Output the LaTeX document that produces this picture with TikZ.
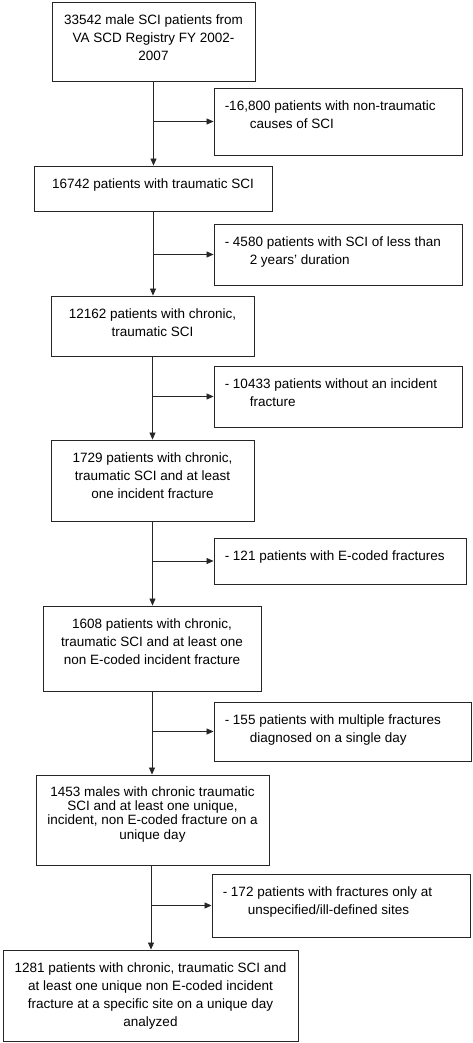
\documentclass[tikz,border=0pt]{standalone}
\usepackage{fontspec}
\setmainfont{Liberation Sans}
\usepackage{tikz}
\usetikzlibrary{positioning,calc,arrows.meta}

\tikzset{
    stagebox/.style={draw=black!85, line width=0.9pt, inner sep=0pt},
    stagetext/.style={anchor=north, inner sep=0pt, align=center, font=\fontsize{13.5}{18}\selectfont},
    droptext/.style={anchor=north west, inner sep=0pt, align=left, font=\fontsize{13.5}{18}\selectfont},
    flow/.style={draw=black!85, line width=0.8pt, -{Triangle[length=7pt,width=6pt]}}
}

\begin{document}
\begin{tikzpicture}[x=1pt,y=-1pt]
    \useasboundingbox (0,0) rectangle (472,1043);

    % Main stages
    \node[stagebox, minimum width=203pt, minimum height=79pt] (s1) at (153.5,41.5) {};
    \node[stagetext] (t1) at ([yshift=-13pt]s1.north) {33542 male SCI patients from\\VA SCD Registry FY 2002-\\2007};

    \node[stagebox, minimum width=238pt, minimum height=45pt] (s2) at (153,188.5) {};
    \node[stagetext] (t2) at ([yshift=-13pt]s2.north) {16742 patients with traumatic SCI};

    \node[stagebox, minimum width=203pt, minimum height=60pt] (s3) at (152.5,326) {};
    \node[stagetext] (t3) at ([yshift=-13pt]s3.north) {12162 patients with chronic,\\traumatic SCI};

    \node[stagebox, minimum width=203pt, minimum height=81pt] (s4) at (152.5,480.5) {};
    \node[stagetext] (t4) at ([yshift=-13pt]s4.north) {1729 patients with chronic,\\traumatic SCI and at least\\one incident fracture};

    \node[stagebox, minimum width=218pt, minimum height=85pt] (s5) at (152,648.5) {};
    \node[stagetext] (t5) at ([yshift=-13pt]s5.north) {1608 patients with chronic,\\traumatic SCI and at least one\\non E-coded incident fracture};

    \node[stagebox, minimum width=233pt, minimum height=90pt] (s6) at (152.5,820) {};
    \node[stagetext, font=\fontsize{13.5}{14.2}\selectfont] (t6) at ([yshift=-12pt]s6.north) {1453 males with chronic traumatic\\SCI and at least one unique,\\incident, non E-coded fracture on a\\unique day};

    \node[stagebox, minimum width=295pt, minimum height=91pt] (s7) at (150.5,995.5) {};
    \node[stagetext] (t7) at ([yshift=-13pt]s7.north) {1281 patients with chronic, traumatic SCI and\\at least one unique non E-coded incident\\fracture at a specific site on a unique day\\analyzed};

    % Exclusions
    \node[stagebox, minimum width=248pt, minimum height=67pt] (e1) at (338,121.5) {};
    \node[droptext] (d1) at ([xshift=11pt,yshift=-13pt]e1.north west) {-16,800 patients with non-traumatic\\\hspace*{25pt}causes of SCI};

    \node[stagebox, minimum width=248pt, minimum height=61pt] (e2) at (338,254.5) {};
    \node[droptext] (d2) at ([xshift=11pt,yshift=-13pt]e2.north west) {- 4580 patients with SCI of less than\\\hspace*{25pt}2 years’ duration};

    \node[stagebox, minimum width=248pt, minimum height=61pt] (e3) at (338,396.5) {};
    \node[droptext] (d3) at ([xshift=11pt,yshift=-13pt]e3.north west) {- 10433 patients without an incident\\\hspace*{25pt}fracture};

    \node[stagebox, minimum width=252pt, minimum height=46pt] (e4) at (340,561) {};
    \node[droptext] (d4) at ([xshift=11pt,yshift=-13pt]e4.north west) {- 121 patients with E-coded fractures};

    \node[stagebox, minimum width=257pt, minimum height=59pt] (e5) at (342.5,731.5) {};
    \node[droptext] (d5) at ([xshift=11pt,yshift=-13pt]e5.north west) {- 155 patients with multiple fractures\\\hspace*{25pt}diagnosed on a single day};

    \node[stagebox, minimum width=258pt, minimum height=63pt] (e6) at (341,905.5) {};
    \node[droptext] (d6) at ([xshift=11pt,yshift=-13pt]e6.north west) {- 172 patients with fractures only at\\\hspace*{25pt}unspecified/ill-defined sites};

    % Flow down
    \draw[flow] (s1.south) -- (s1.south |- s2.north);
    \draw[flow] (s2.south) -- (s2.south |- s3.north);
    \draw[flow] (s3.south) -- (s3.south |- s4.north);
    \draw[flow] (s4.south) -- (s4.south |- s5.north);
    \draw[flow] (s5.south) -- (s5.south |- s6.north);
    \draw[flow] ([xshift=-1.5pt]s6.south) -- ([xshift=-1.5pt]s6.south |- s7.north);

    % Flow out
    \draw[flow] (s1.south |- e1.west) -- (e1.west);
    \draw[flow] (s2.south |- e2.west) -- (e2.west);
    \draw[flow] (s3.south |- e3.west) -- (e3.west);
    \draw[flow] (s4.south |- e4.west) -- (e4.west);
    \draw[flow] (s5.south |- e5.west) -- (e5.west);
    \draw[flow] ([xshift=-1.5pt]s6.south |- e6.west) -- (e6.west);
\end{tikzpicture}
\end{document}
